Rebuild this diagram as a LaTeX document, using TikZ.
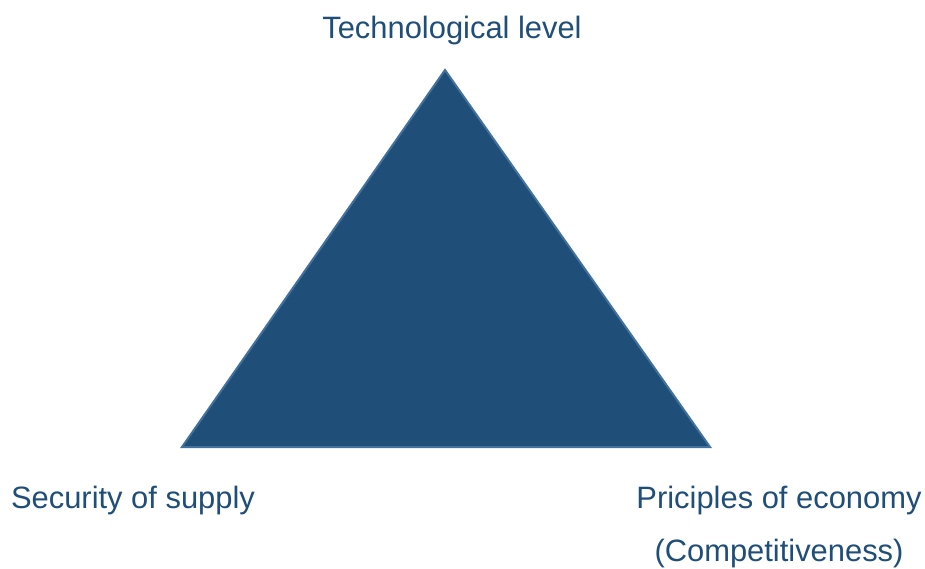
\documentclass[tikz,border=0pt]{standalone}
\usepackage{fontspec}
\setmainfont{Liberation Sans}
\definecolor{triFill}{RGB}{31,78,121}
\definecolor{triEdge}{RGB}{65,113,156}
\definecolor{labelBlue}{RGB}{31,78,121}
\begin{document}
\begin{tikzpicture}[x=1pt,y=-1pt,
  corner label/.style={text=labelBlue,font=\fontsize{30.9}{36}\selectfont,inner sep=0pt,anchor=center,align=center}]
\useasboundingbox (0,0) rectangle (925,568);
% triangle corners
\coordinate (apex) at (445,70);
\coordinate (left) at (182,447);
\coordinate (right) at (710,447);
\filldraw[fill=triFill,draw=triEdge,line width=2pt,line join=miter] (apex) -- (right) -- (left) -- cycle;
% labels at the corners
\node[corner label] (tech) at (452,31) {Technological level};
\node[corner label] (sec) at (133,500) {Security of supply};
\node[corner label] (econ) at (779,500) {Priciples of economy};
\node[corner label] (comp) at (779,553) {(Competitiveness)};
\end{tikzpicture}
\end{document}
